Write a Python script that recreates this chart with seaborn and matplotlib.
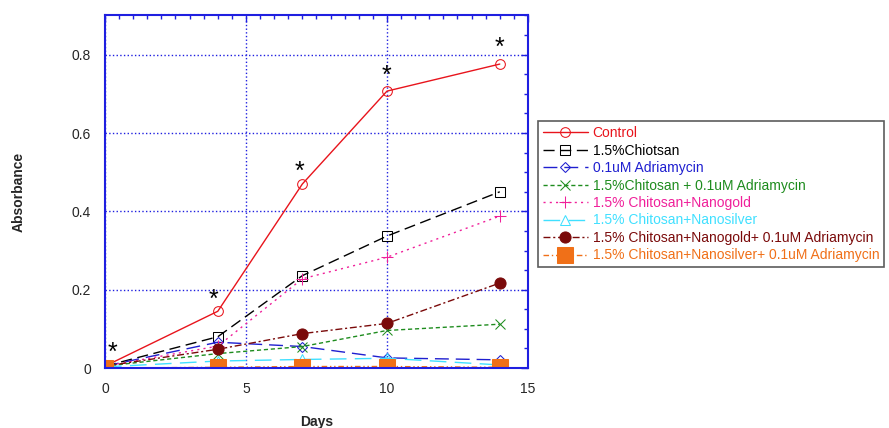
import matplotlib
matplotlib.use("Agg")
import matplotlib.pyplot as plt
import seaborn as sns
from matplotlib.ticker import MultipleLocator

# Data
days = [0, 4, 7, 10, 14]

control = [0.005, 0.145, 0.470, 0.707, 0.776]
chiotsan = [0.005, 0.080, 0.236, 0.337, 0.450]
adriamycin = [0.005, 0.066, 0.055, 0.026, 0.021]
chitosan_adr = [0.005, 0.037, 0.055, 0.096, 0.112]
nanogold = [0.005, 0.056, 0.228, 0.283, 0.388]
nanosilver = [0.003, 0.018, 0.022, 0.025, 0.008]
nanogold_adr = [0.005, 0.048, 0.088, 0.114, 0.217]
nanosilver_adr = [0.0, 0.002, 0.004, 0.004, 0.002]

labels = ["Control", "1.5%Chiotsan", "0.1uM Adriamycin",
          "1.5%Chitosan + 0.1uM Adriamycin", "1.5% Chitosan+Nanogold",
          "1.5% Chitosan+Nanosilver", "1.5% Chitosan+Nanogold+ 0.1uM Adriamycin",
          "1.5% Chitosan+Nanosilver+ 0.1uM Adriamycin"]

star_x = [0.25, 3.85, 6.9, 10.0, 14.0]
star_y = [0.04, 0.175, 0.50, 0.745, 0.818]

sns.set_style("white")
plt.rcParams['font.family'] = ['Liberation Sans', 'DejaVu Sans']

fig = plt.figure(figsize=(8.89, 4.28), dpi=100)
ax = fig.add_axes([0.1181, 0.140, 0.4758, 0.8238])

series = [control, chiotsan, adriamycin, chitosan_adr, nanogold,
          nanosilver, nanogold_adr, nanosilver_adr]
colors = ["#e8141c", "#000000", "#1f1fd0", "#1e8c1e", "#f0209a",
          "#40e0ff", "#7a0a0a", "#f07018"]
styles = [
    dict(linestyle="-", marker="o", mfc="none", ms=7),
    dict(linestyle=(0, (8, 4)), marker="s", mfc="none", ms=7),
    dict(linestyle=(0, (10, 5)), marker="D", mfc="none", ms=5),
    dict(linestyle=(0, (3, 2)), marker="x", ms=7),
    dict(linestyle=(0, (1.5, 3)), marker="+", ms=9),
    dict(linestyle=(0, (12, 6)), marker="^", mfc="none", ms=6.5),
    dict(linestyle=(0, (5, 2, 1.5, 2)), marker="o", ms=8),
    dict(linestyle=(0, (4, 2, 1, 2, 1, 2)), marker="s", ms=11),
]

for vals, lab, col, st in zip(series, labels, colors, styles):
    sns.lineplot(x=days, y=vals, ax=ax, color=col, label=lab, lw=1.0,
                 mec=col, **st)

for sx, sy in zip(star_x, star_y):
    ax.text(sx, sy, "*", fontsize=18, ha="center", va="center", color="black")

ax.set_xlim(0, 15)
ax.set_ylim(0, 0.9)
ax.xaxis.set_major_locator(MultipleLocator(5))
ax.xaxis.set_minor_locator(MultipleLocator(0.5))
ax.yaxis.set_major_locator(MultipleLocator(0.2))
ax.yaxis.set_minor_locator(MultipleLocator(0.05))
ax.set_yticks([0, 0.2, 0.4, 0.6, 0.8])
ax.set_yticklabels(["0", "0.2", "0.4", "0.6", "0.8"])
ax.tick_params(which="both", direction="in", top=True, right=True,
               color="#1f1fe0", labelsize=10, pad=10)
ax.tick_params(which="major", length=5, width=1)
ax.tick_params(which="minor", length=3, width=1)
for sp in ax.spines.values():
    sp.set_color("#1f1fe0")
    sp.set_linewidth(1.5)
ax.grid(True, which="major", color="#1f1fe0", linestyle=":", linewidth=1)

ax.set_xlabel("Days", fontsize=10, fontweight="bold", labelpad=14)
ax.set_ylabel("Absorbance", fontsize=10, fontweight="bold", labelpad=33)

leg = ax.legend(loc="upper left", bbox_to_anchor=(1.023, 0.70), fontsize=10,
                frameon=True, fancybox=False, handlelength=3.3,
                borderaxespad=0, labelspacing=0.25, handletextpad=0.3,
                borderpad=0.35)
leg.get_frame().set_edgecolor("#333333")
leg.get_frame().set_linewidth(1.2)
for text, col in zip(leg.get_texts(), colors):
    text.set_color(col)

fig.savefig("out.png", dpi=100)
